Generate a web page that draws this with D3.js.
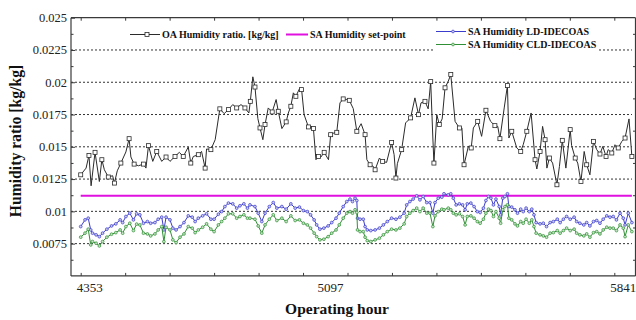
<!DOCTYPE html>
<html>
<head>
<meta charset="utf-8">
<script src="https://cdn.jsdelivr.net/npm/d3@7"></script>
<style>
  html, body { margin: 0; padding: 0; background: #fff; }
  svg { display: block; font-family: "Liberation Serif", "Times New Roman", serif; }
</style>
</head>
<body>
<svg id="chart" width="636" height="320"></svg>
<script>
// Outdoor air humidity ratio (kg/kg) by operating hour
const oaHours = [
  4353,4368,4376,4382,4393,4405,4412,4419,4430,4442,
  4447,4455,4465,4479,4488,4493,4502,4514,4528,4535,
  4542,4554,4565,4579,4591,4602,4616,4628,4639,4653,
  4660,4667,4681,4690,4700,4704,4716,4728,4741,4753,
  4765,4777,4788,4800,4811,4822,4826,4833,4839,4847,
  4853,4861,4867,4876,4887,4898,4904,4914,4926,4932,
  4939,4946,4953,4963,4969,4976,4988,4997,5002,5009,
  5016,5023,5032,5044,5050,5059,5067,5076,5085,5095,
  5102,5113,5123,5135,5146,5151,5160,5169,5174,5186,
  5195,5206,5220,5227,5232,5236,5248,5259,5273,5285,
  5295,5302,5313,5322,5329,5335,5338,5346,5353,5361,
  5369,5378,5385,5397,5409,5416,5422,5434,5442,5448,
  5460,5471,5483,5496,5508,5516,5522,5534,5543,5547,
  5555,5569,5580,5587,5597,5609,5620,5625,5634,5641,
  5648,5653,5660,5669,5681,5688,5696,5706,5718,5722,
  5732,5739,5748,5757,5764,5773,5783,5792,5801,5809,
  5818,5824,5834,5843,5852,5862,5871,5882,5890
];
const oaValues = [
  0.01283,0.01335,0.01433,0.01198,0.01457,0.01231,0.01400,0.01322,0.01266,0.01276,
  0.01219,0.01314,0.01374,0.01460,0.01563,0.01421,0.01366,0.01353,0.01366,0.01335,
  0.01509,0.01387,0.01464,0.01387,0.01421,0.01387,0.01425,0.01457,0.01425,0.01498,
  0.01374,0.01425,0.01439,0.01464,0.01335,0.01483,0.01478,0.01555,0.01794,0.01757,
  0.01788,0.01827,0.01801,0.01827,0.01801,0.01762,0.01852,0.02042,0.01963,0.01718,
  0.01646,0.01555,0.01672,0.01801,0.01770,0.01866,0.01775,0.01641,0.01693,0.01762,
  0.01814,0.01918,0.01891,0.01949,0.01943,0.01749,0.01654,0.01651,0.01641,0.01400,
  0.01425,0.01421,0.01457,0.01400,0.01594,0.01607,0.01612,0.01840,0.01871,0.01866,
  0.01860,0.01796,0.01620,0.01679,0.01594,0.01400,0.01361,0.01348,0.01322,0.01413,
  0.01387,0.01379,0.01534,0.01439,0.01258,0.01369,0.01478,0.01685,0.01724,0.01879,
  0.01749,0.01840,0.01852,0.01794,0.02005,0.01568,0.01374,0.01749,0.01672,0.01716,
  0.01957,0.02008,0.02060,0.01697,0.01646,0.01646,0.01361,0.01503,0.01491,0.01646,
  0.01697,0.01581,0.01783,0.01697,0.01664,0.01658,0.01563,0.01801,0.01974,0.01568,
  0.01620,0.01491,0.01464,0.01516,0.01620,0.01762,0.01400,0.01328,0.01464,0.01658,
  0.01555,0.01335,0.01413,0.01374,0.01206,0.01348,0.01550,0.01335,0.01633,0.01509,
  0.01413,0.01374,0.01231,0.01464,0.01361,0.01283,0.01542,0.01478,0.01444,0.01503,
  0.01425,0.01478,0.01452,0.01516,0.01491,0.01542,0.01568,0.01716,0.01425
];

// Supply air humidity ratio for the two systems, sampled at the same hours
const saHours = [
  4353,4365,4374,4381,4386,4396,4405,4414,4426,4439,
  4451,4463,4470,4479,4490,4500,4509,4518,4528,4539,
  4548,4560,4569,4579,4585,4591,4602,4610,4619,4630,
  4641,4653,4664,4672,4681,4693,4704,4716,4725,4737,
  4746,4755,4765,4777,4788,4797,4808,4818,4825,4839,
  4848,4858,4867,4879,4890,4900,4914,4926,4939,4951,
  4963,4974,4985,4994,5004,5011,5020,5031,5043,5053,
  5065,5074,5085,5095,5104,5111,5118,5123,5125,5132,
  5141,5146,5152,5162,5174,5186,5197,5208,5220,5232,
  5243,5255,5262,5271,5280,5290,5299,5308,5318,5327,
  5335,5341,5350,5360,5366,5378,5385,5392,5400,5409,
  5418,5425,5431,5441,5450,5459,5467,5476,5483,5490,
  5497,5504,5511,5520,5524,5530,5536,5543,5547,5555,
  5564,5571,5580,5587,5595,5604,5611,5617,5623,5634,
  5643,5652,5662,5671,5682,5690,5699,5708,5718,5729,
  5736,5745,5756,5764,5773,5783,5792,5801,5810,5820,
  5829,5838,5847,5857,5866,5871,5880,5890
];
const ldValues = [
  0.00882,0.00934,0.00947,0.00856,0.00831,0.00818,0.00804,0.00831,0.00862,0.00887,
  0.00903,0.00934,0.00913,0.00960,0.00986,0.00934,0.00981,0.00973,0.00908,0.00921,
  0.00908,0.00913,0.00939,0.00955,0.00856,0.00955,0.00934,0.00870,0.00856,0.00882,
  0.00913,0.00965,0.00955,0.00921,0.00947,0.00965,0.00981,0.00939,0.00939,0.00978,
  0.00998,0.01037,0.01064,0.01058,0.01025,0.01043,0.01058,0.01025,0.01050,0.01037,
  0.00986,0.00921,0.00986,0.01037,0.01068,0.01025,0.01037,0.01017,0.01058,0.01025,
  0.01033,0.01006,0.00998,0.00973,0.00934,0.00895,0.00862,0.00870,0.00887,0.00913,
  0.00947,0.00986,0.01037,0.01076,0.01095,0.01076,0.01102,0.01084,0.00947,0.00939,
  0.00939,0.00882,0.00856,0.00851,0.00856,0.00870,0.00895,0.00921,0.00947,0.00939,
  0.00955,0.00986,0.01050,0.01076,0.01095,0.01120,0.01089,0.01115,0.01068,0.01068,
  0.00986,0.01068,0.01102,0.01110,0.01136,0.01128,0.01136,0.01102,0.01050,0.01058,
  0.01050,0.01012,0.01058,0.01064,0.01037,0.00998,0.00991,0.01025,0.01084,0.01115,
  0.01102,0.01050,0.01095,0.01037,0.00973,0.01102,0.01115,0.01136,0.01037,0.01033,
  0.01012,0.00986,0.01017,0.00998,0.01025,0.00998,0.01017,0.00973,0.00913,0.00903,
  0.00908,0.00882,0.00913,0.00921,0.00939,0.00913,0.00939,0.00960,0.00939,0.00955,
  0.00921,0.00908,0.00895,0.00913,0.00887,0.00921,0.00929,0.00908,0.00939,0.00965,
  0.00955,0.00960,0.00934,0.00986,0.00947,0.00895,0.00986,0.00913
];
const cldValues = [
  0.00800,0.00831,0.00862,0.00740,0.00766,0.00753,0.00732,0.00766,0.00800,0.00823,
  0.00835,0.00856,0.00831,0.00882,0.00908,0.00851,0.00901,0.00895,0.00831,0.00825,
  0.00810,0.00825,0.00856,0.00882,0.00766,0.00877,0.00856,0.00779,0.00758,0.00800,
  0.00825,0.00882,0.00870,0.00835,0.00856,0.00877,0.00903,0.00862,0.00843,0.00895,
  0.00921,0.00947,0.00981,0.00981,0.00947,0.00960,0.00973,0.00947,0.00947,0.00939,
  0.00887,0.00831,0.00895,0.00939,0.00973,0.00929,0.00947,0.00921,0.00965,0.00929,
  0.00934,0.00908,0.00895,0.00870,0.00831,0.00804,0.00779,0.00784,0.00804,0.00831,
  0.00856,0.00895,0.00947,0.00986,0.00998,0.00986,0.01012,0.00991,0.00856,0.00843,
  0.00843,0.00800,0.00773,0.00766,0.00779,0.00792,0.00818,0.00843,0.00862,0.00856,
  0.00870,0.00903,0.00960,0.00986,0.01006,0.01025,0.00998,0.01025,0.00986,0.00986,
  0.00882,0.00965,0.00998,0.01017,0.01012,0.01025,0.01012,0.00986,0.00973,0.00981,
  0.00960,0.00895,0.00960,0.00965,0.00947,0.00921,0.00908,0.00939,0.00986,0.01017,
  0.01006,0.00960,0.00998,0.00947,0.00908,0.01012,0.01037,0.01050,0.00947,0.00934,
  0.00903,0.00887,0.00921,0.00908,0.00939,0.00908,0.00934,0.00882,0.00831,0.00818,
  0.00810,0.00800,0.00831,0.00835,0.00851,0.00831,0.00851,0.00870,0.00851,0.00862,
  0.00831,0.00818,0.00810,0.00825,0.00800,0.00835,0.00843,0.00825,0.00856,0.00877,
  0.00870,0.00870,0.00851,0.00895,0.00870,0.00804,0.00895,0.00843
];

// Supply air set-point (constant)
const setPointHours = [4353, 5890];
const setPointValues = [0.0112, 0.0112];

// Axis ticks and labels
const xTickValues = d3.range(4353, 5842, 124);
const xLabelValues = [4353, 5097, 5841];
const yMajorTicks = [0.0075, 0.01, 0.0125, 0.015, 0.0175, 0.02, 0.0225, 0.025];
const yMinorTicks = [0.00625, 0.00875, 0.01125, 0.01375, 0.01625, 0.01875, 0.02125, 0.02375];
const yGridValues = [0.0075, 0.01, 0.0125, 0.015, 0.0175, 0.02, 0.0225];

const legendNames = [
  "OA Humidity ratio. [kg/kg]",
  "SA Humidity set-point",
  "SA Humidity LD-IDECOAS",
  "SA Humidity CLD-IDECOAS"
];

// ---- layout ----
const frame = { left: 71, right: 635.5, top: 17.7, bottom: 275.9 };
const colors = { oa: "#2b2b2b", sp: "#e010e0", ld: "#3b3bcc", cld: "#2f8f34", axis: "#3a3a3a", grid: "#333" };
// horizontal nudges of the three hour labels relative to their ticks
const xLabelShift = { 4353: 9, 5097: -17, 5841: 9 };

const svg = d3.select("#chart");

const x = d3.scaleLinear().domain([4353, 5841]).range([80.7, 614.3]);
const y = d3.scaleLinear().domain([0.005, 0.025]).range([frame.bottom, frame.top]);

// dotted horizontal gridlines
svg.append("g").selectAll("line").data(yGridValues).join("line")
  .attr("x1", frame.left).attr("x2", 632)
  .attr("y1", d => y(d)).attr("y2", d => y(d))
  .attr("stroke", colors.grid).attr("stroke-width", 1)
  .attr("stroke-dasharray", "2,2");

const lineOf = (hours, vals) => d3.line().x((d, i) => x(hours[i])).y(d => y(d))(vals);

// set-point line
svg.append("path").attr("d", lineOf(setPointHours, setPointValues))
  .attr("fill", "none").attr("stroke", colors.sp).attr("stroke-width", 2);

// supply air series
function drawSA(vals, color, fillColor) {
  svg.append("path").attr("d", lineOf(saHours, vals))
    .attr("fill", "none").attr("stroke", color).attr("stroke-width", 1);
  svg.append("g").selectAll("circle").data(vals).join("circle")
    .attr("cx", (d, i) => x(saHours[i])).attr("cy", d => y(d)).attr("r", 1.4)
    .attr("fill", fillColor).attr("stroke", color).attr("stroke-width", 0.7);
}
drawSA(ldValues, colors.ld, "#c9c9f2");
drawSA(cldValues, colors.cld, "#c4e4c4");

// outdoor air series with open square markers on every other sample
svg.append("path").attr("d", lineOf(oaHours, oaValues))
  .attr("fill", "none").attr("stroke", colors.oa).attr("stroke-width", 1);
svg.append("g").selectAll("rect")
  .data(oaValues.map((v, i) => ({ h: oaHours[i], v, i })).filter(d => d.i % 2 === 0))
  .join("rect")
  .attr("x", d => x(d.h) - 2).attr("y", d => y(d.v) - 2)
  .attr("width", 4).attr("height", 4)
  .attr("fill", "#fff").attr("stroke", colors.oa).attr("stroke-width", 0.8);

// ---- axes / frame (ticks point inward) ----
const gBottom = svg.append("g").attr("transform", `translate(0,${frame.bottom})`)
  .call(d3.axisBottom(x).tickValues(xTickValues).tickSize(-3).tickFormat(""));
const gTop = svg.append("g").attr("transform", `translate(0,${frame.top})`)
  .call(d3.axisTop(x).tickValues(xTickValues).tickSize(-3).tickFormat(""));
const gLeft = svg.append("g").attr("transform", `translate(${frame.left},0)`)
  .call(d3.axisLeft(y).tickValues(yMajorTicks).tickSize(-4).tickFormat(""));
const gLeftMinor = svg.append("g").attr("transform", `translate(${frame.left},0)`)
  .call(d3.axisLeft(y).tickValues(yMinorTicks).tickSize(-2.5).tickFormat(""));
const gRight = svg.append("g").attr("transform", `translate(${frame.right},0)`)
  .call(d3.axisRight(y).tickValues(yMinorTicks).tickSize(-2.5).tickFormat(""));

[gBottom, gTop, gLeft, gLeftMinor, gRight].forEach(g => {
  g.select(".domain").attr("stroke", colors.axis).attr("stroke-width", 1.2);
  g.selectAll(".tick line").attr("stroke", colors.axis).attr("stroke-width", 1);
});
// frame edges span the full plot box
gBottom.select(".domain").attr("d", `M${frame.left},0H${frame.right}`);
gTop.select(".domain").attr("d", `M${frame.left},0H${frame.right}`);
gLeft.select(".domain").attr("d", `M0,${frame.top}V${frame.bottom}`);
gRight.select(".domain").attr("d", `M0,${frame.top}V${frame.bottom}`);
gLeftMinor.select(".domain").remove();

// y tick labels
svg.append("g").selectAll("text").data(yMajorTicks).join("text")
  .attr("x", 67).attr("y", d => y(d)).attr("dy", "0.35em")
  .attr("text-anchor", "end").attr("font-size", 12.5).attr("fill", "#222")
  .text(d => String(d));

// x tick labels
svg.append("g").selectAll("text").data(xLabelValues).join("text")
  .attr("x", d => x(d) + xLabelShift[d]).attr("y", 292)
  .attr("text-anchor", "middle").attr("font-size", 13).attr("fill", "#222")
  .text(d => d);

// axis titles
svg.append("text")
  .attr("transform", "translate(21,141) rotate(-90)")
  .attr("text-anchor", "middle").attr("font-size", 15.7).attr("font-weight", "bold")
  .attr("fill", "#111").text("Humidity ratio [kg/kg]");
svg.append("text")
  .attr("x", 337).attr("y", 314).attr("text-anchor", "middle")
  .attr("font-size", 15.5).attr("font-weight", "bold").attr("fill", "#111")
  .text("Operating hour");

// ---- legend ----
const legend = svg.append("g").attr("font-size", 10).attr("font-weight", "bold").attr("fill", "#111");
legend.append("rect").attr("x", 434).attr("y", 25).attr("width", 164).attr("height", 27).attr("fill", "#fff");

const legendItems = [
  { name: legendNames[0], x0: 130, x1: 160, y: 34.5, color: colors.oa, mark: "square", w: 1 },
  { name: legendNames[1], x0: 286, x1: 308, y: 34.5, color: colors.sp, mark: null, w: 2 },
  { name: legendNames[2], x0: 436, x1: 466, y: 31.5, color: colors.ld, mark: "circle", fill: "#c9c9f2", w: 1 },
  { name: legendNames[3], x0: 436, x1: 466, y: 44.5, color: colors.cld, mark: "circle", fill: "#c4e4c4", w: 1 }
];
legendItems.forEach(it => {
  legend.append("line").attr("x1", it.x0).attr("x2", it.x1).attr("y1", it.y).attr("y2", it.y)
    .attr("stroke", it.color).attr("stroke-width", it.w);
  const mx = (it.x0 + it.x1) / 2 + 2;
  if (it.mark === "square") {
    legend.append("rect").attr("x", mx - 2).attr("y", it.y - 2).attr("width", 4).attr("height", 4)
      .attr("fill", "#fff").attr("stroke", it.color).attr("stroke-width", 0.8);
  } else if (it.mark === "circle") {
    legend.append("circle").attr("cx", mx).attr("cy", it.y).attr("r", 1.4)
      .attr("fill", it.fill).attr("stroke", it.color).attr("stroke-width", 0.7);
  }
  legend.append("text").attr("x", it.x1 + 2).attr("y", it.y).attr("dy", "0.35em").text(it.name);
});
</script>
</body>
</html>
